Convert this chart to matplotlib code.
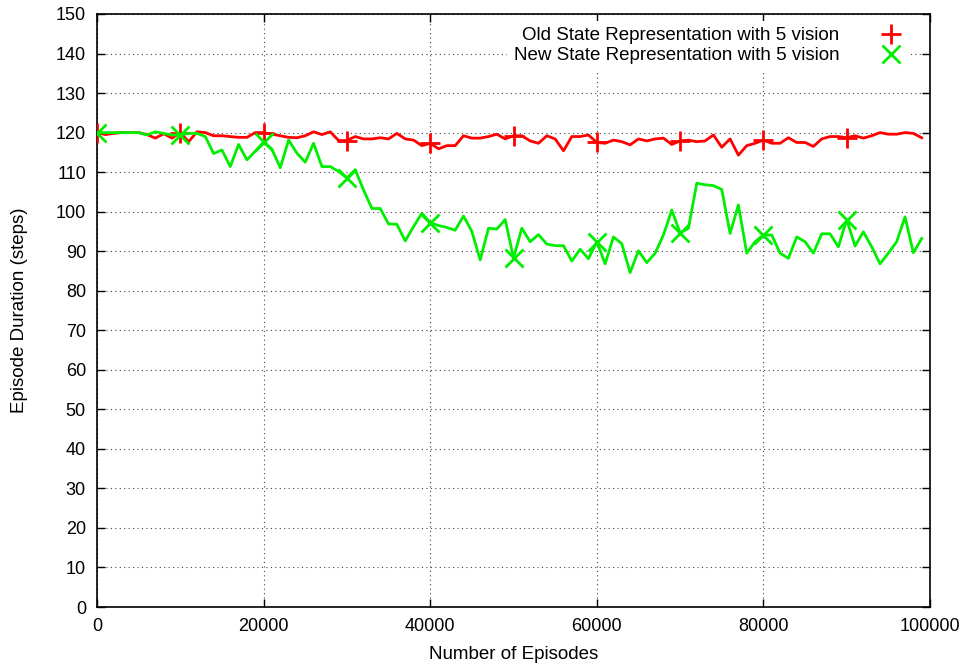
import matplotlib
matplotlib.use("Agg")
import matplotlib.pyplot as plt
from matplotlib.lines import Line2D
import numpy as np

plt.rcParams['font.family'] = ['Liberation Sans', 'DejaVu Sans']

# episodes, one sample every 1000
episodes = np.arange(0, 100000, 1000)

old_state = [
    120, 119.5, 119.8, 120, 120, 120, 119.5, 118.6, 119.7, 118.6,
    120, 117.7, 120.2, 120, 119.2, 119.2, 119, 118.8, 118.8, 120,
    120, 119.6, 119.2, 118.8, 118.7, 119.2, 120.2, 119.5, 120.2, 118,
    118, 119, 118.4, 118.4, 118.7, 118.4, 119.8, 118.4, 118.1, 116.7,
    117.3, 115.9, 116.7, 116.7, 119.2, 118.6, 118.6, 119, 119.6, 118.4,
    119.2, 119.2, 117.9, 117.3, 119.2, 118.4, 115.4, 119, 119, 119.4,
    117.5, 117.3, 118.1, 117.7, 116.9, 118.4, 117.9, 118.4, 118.6, 117,
    117.9, 118.1, 117.7, 117.9, 119.4, 116.3, 118.4, 114.3, 116.7, 117.3,
    118.1, 117.3, 117.3, 118.7, 117.5, 117.5, 116.5, 118.4, 119, 119,
    118.7, 119.2, 118.6, 119.2, 120, 119.6, 119.6, 120, 119.8, 118.7,
]

new_state = [
    120, 120, 120, 120, 120, 120, 119.4, 120.2, 119.8, 119.4,
    119.4, 119.8, 119.8, 119, 114.7, 115.6, 111.4, 117, 113.1, 115.3,
    117.6, 115.8, 111.1, 118.1, 114.8, 112.5, 117.3, 111.4, 111.4, 110.2,
    108.5, 110.6, 105.5, 100.8, 100.8, 96.9, 96.8, 92.6, 96.2, 99.6,
    97.2, 96.5, 96.0, 95.3, 98.9, 95.0, 87.8, 95.8, 95.6, 98,
    88.3, 95.8, 92.4, 94.2, 91.8, 91.4, 91.4, 87.5, 90.5, 88.1,
    92.4, 86.8, 93.6, 91.9, 84.6, 90.1, 87.1, 89.5, 94.1, 100.4,
    94.6, 95.8, 107.2, 106.8, 106.6, 105.6, 94.5, 101.7, 89.5, 92.4,
    94.1, 94.1, 89.5, 88.2, 93.6, 92.4, 89.5, 94.4, 94.4, 91.1,
    98.0, 91.3, 94.9, 91.1, 86.8, 89.5, 92.4, 98.7, 89.6, 93.2,
]

labels = ["Old State Representation with 5 vision",
          "New State Representation with 5 vision"]
red = "#ff0000"
green = "#00ee00"

fig = plt.figure(figsize=(9.65, 6.66), dpi=100)
ax = fig.add_axes([97/965, 59/666, 833/965, 593/666])

ax.plot(episodes, old_state, color=red, lw=2, marker="+", markevery=10,
        markersize=14, markeredgewidth=2, zorder=3)
ax.plot(episodes, new_state, color=green, lw=2, marker="x", markevery=10,
        markersize=13, markeredgewidth=2, zorder=4)

ax.set_xlim(0, 100000)
ax.set_ylim(0, 150)
ax.set_xticks(np.arange(0, 100001, 20000))
ax.set_yticks(np.arange(0, 151, 10))
ax.tick_params(direction="in", length=6, width=1, top=True, right=True,
               labelsize=13, pad=8)
ax.grid(True, color="#444444", lw=0.8, linestyle=(0, (1, 3)))
for s in ax.spines.values():
    s.set_linewidth(1.2)

ax.set_xlabel("Number of Episodes", fontsize=13.5, labelpad=8)
ax.set_ylabel("Episode Duration (steps)", fontsize=13.5, labelpad=20)

handles = [
    Line2D([], [], color=red, linestyle="none", marker="+", markersize=14, markeredgewidth=2),
    Line2D([], [], color=green, linestyle="none", marker="x", markersize=13, markeredgewidth=2),
]
leg = ax.legend(handles, labels, loc="upper right", markerfirst=False,
                bbox_to_anchor=(1 - 12/833, 1.0),
                fontsize=13.5, frameon=True, fancybox=False, framealpha=1,
                handlelength=1.5, handletextpad=2.0, labelspacing=0.15,
                borderpad=0.35, borderaxespad=0.35)
leg.get_frame().set_edgecolor("none")
leg.get_frame().set_facecolor("white")

fig.savefig("out.png", dpi=100)
